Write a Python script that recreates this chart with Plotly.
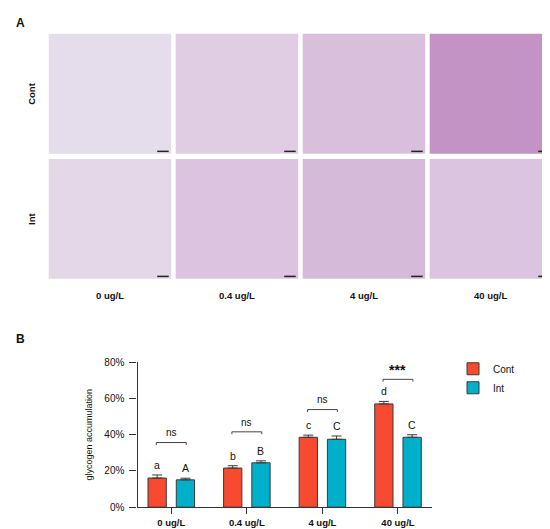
import plotly.graph_objects as go

# ---------------- data ----------------
doses = ["0 ug/L", "0.4 ug/L", "4 ug/L", "40 ug/L"]
series_names = ["Cont", "Int"]
cont_mean = [16.1, 21.6, 38.6, 57.0]
cont_err = [1.7, 1.3, 1.2, 1.4]
int_mean = [15.1, 24.5, 37.5, 38.6]
int_err = [0.9, 1.1, 1.8, 1.4]
cont_letters = ["a", "b", "c", "d"]
int_letters = ["A", "B", "C", "C"]
sig_labels = ["ns", "ns", "ns", "***"]
y_ticks = [0, 20, 40, 60, 80]
y_tick_labels = ["0%", "20%", "40%", "60%", "80%"]

# ---------------- style ----------------
W, H = 550, 529
FONT = "Liberation Sans, Arial, Helvetica, sans-serif"
RED = "#F64B30"
BLUE = "#00AFCA"
EDGE = "#3a3a3a"
AXC = "#333333"

# panel A tile colours (approximate mean staining of each micrograph)
tile_colors = {
    "Cont": ["#E5DDEB", "#E0CCE3", "#D9BFDB", "#C493C6"],
    "Int": ["#E4D7E8", "#DCC3DF", "#D5BAD9", "#DBC4DF"],
}
bracket_levels = [35.7, 41.6, 53.9, 70.6]


def px(x):
    return x / W


def py(y):
    return 1 - y / H


fig = go.Figure()

fig.add_trace(go.Bar(
    x=doses, y=cont_mean, name=series_names[0],
    marker=dict(color=RED, line=dict(color=EDGE, width=1)),
    error_y=dict(type="data", symmetric=False, array=cont_err,
                 arrayminus=[0] * len(cont_err), color=EDGE, thickness=1, width=5),
))
fig.add_trace(go.Bar(
    x=doses, y=int_mean, name=series_names[1],
    marker=dict(color=BLUE, line=dict(color=EDGE, width=1)),
    error_y=dict(type="data", symmetric=False, array=int_err,
                 arrayminus=[0] * len(int_err), color=EDGE, thickness=1, width=5),
))

shapes = []
annotations = []

# ---------- Panel A: micrograph tiles ----------
col_x0 = [40.7, 167.7, 294.7, 421.7]
tile_w = 122.5
row_y0 = [21.3, 149.0]
tile_h = 122.5
for r, grp in enumerate(series_names):
    for c in range(len(doses)):
        x0, y0 = col_x0[c], row_y0[r]
        shapes.append(dict(type="rect", xref="paper", yref="paper",
                           x0=px(x0), x1=px(x0 + tile_w), y0=py(y0 + tile_h), y1=py(y0),
                           fillcolor=tile_colors[grp][c], line=dict(width=0), layer="below"))
        # scale bar
        shapes.append(dict(type="line", xref="paper", yref="paper",
                           x0=px(x0 + tile_w - 14), x1=px(x0 + tile_w - 2.5),
                           y0=py(y0 + tile_h - 2.5), y1=py(y0 + tile_h - 2.5),
                           line=dict(color="#222222", width=1.5)))
    annotations.append(dict(xref="paper", yref="paper", x=px(24), y=py(row_y0[r] + tile_h / 2),
                            text="<b>%s</b>" % grp, showarrow=False, textangle=-90,
                            font=dict(family=FONT, size=9.5, color="#111111"),
                            xanchor="center", yanchor="middle"))
for c, d in enumerate(doses):
    annotations.append(dict(xref="paper", yref="paper", x=px(col_x0[c] + tile_w / 2), y=py(288.5),
                            text="<b>%s</b>" % d, showarrow=False,
                            font=dict(family=FONT, size=9.5, color="#111111"),
                            xanchor="center", yanchor="middle"))

# panel letters
annotations.append(dict(xref="paper", yref="paper", x=px(6), y=py(10), text="<b>A</b>",
                        showarrow=False, font=dict(family=FONT, size=12, color="#111111"),
                        xanchor="left", yanchor="middle"))
annotations.append(dict(xref="paper", yref="paper", x=px(6), y=py(333), text="<b>B</b>",
                        showarrow=False, font=dict(family=FONT, size=12, color="#111111"),
                        xanchor="left", yanchor="middle"))

# ---------- Panel B annotations ----------
off = 0.187
for i in range(len(doses)):
    annotations.append(dict(xref="x", yref="y", x=i - off, y=cont_mean[i] + cont_err[i] + 5.5,
                            text=cont_letters[i], showarrow=False,
                            font=dict(family=FONT, size=10.5, color="#111111"), yanchor="middle"))
    annotations.append(dict(xref="x", yref="y", x=i + off, y=int_mean[i] + int_err[i] + 5.5,
                            text=int_letters[i], showarrow=False,
                            font=dict(family=FONT, size=10.5, color="#111111"), yanchor="middle"))
    lvl = bracket_levels[i]
    hw = 0.198
    for seg in [(i - hw, lvl, i + hw, lvl), (i - hw, lvl, i - hw, lvl - 1.3), (i + hw, lvl, i + hw, lvl - 1.3)]:
        shapes.append(dict(type="line", xref="x", yref="y", x0=seg[0], y0=seg[1], x1=seg[2], y1=seg[3],
                           line=dict(color="#444444", width=1)))
    is_star = sig_labels[i].startswith("*")
    annotations.append(dict(xref="x", yref="y", x=i, y=lvl + (4.9 if is_star else 5.3),
                            text=("<b>%s</b>" % sig_labels[i]) if is_star else sig_labels[i],
                            showarrow=False,
                            font=dict(family=FONT, size=14 if is_star else 10, color="#111111"),
                            yanchor="middle"))

fig.update_layout(
    width=W, height=H,
    margin=dict(l=0, r=0, t=0, b=0),
    paper_bgcolor="white", plot_bgcolor="white",
    barmode="group", bargap=0.252, bargroupgap=0.353,
    font=dict(family=FONT, size=10, color="#111111"),
    shapes=shapes, annotations=annotations,
    legend=dict(x=px(445), y=py(348.5), xanchor="left", yanchor="top",
                font=dict(family=FONT, size=10, color="#111111"),
                bgcolor="rgba(0,0,0,0)", tracegroupgap=0, itemclick=False),
    xaxis=dict(domain=[px(129.5), px(424.3)], anchor="y", range=[-0.447, 3.454],
               showline=True, linecolor=AXC, linewidth=1.3, ticks="outside", ticklen=6,
               tickwidth=1.3, tickcolor=AXC, showgrid=False, zeroline=False,
               tickfont=dict(family=FONT, size=9.5, color="#111111", weight="bold")),
    yaxis=dict(domain=[py(504.7), py(356.7)], anchor="x", range=[0, 80],
               tickmode="array", tickvals=y_ticks, ticktext=y_tick_labels,
               showline=True, linecolor=AXC, linewidth=1.3,
               ticks="outside", ticklen=7, tickwidth=1.3, tickcolor=AXC, showgrid=False,
               ticklabelstandoff=3,
               zeroline=False, tickfont=dict(family=FONT, size=10, color="#111111"),
               title=dict(text="glycogen accumulation", standoff=10,
                          font=dict(family=FONT, size=9, color="#111111"))),
)

fig.write_html("out.html")
